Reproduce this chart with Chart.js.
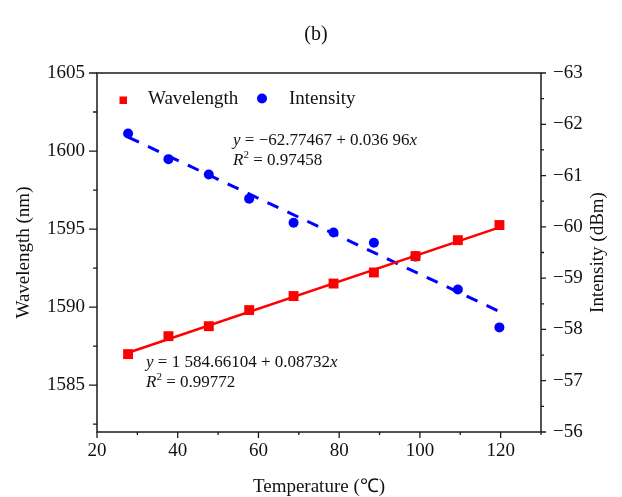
<!DOCTYPE html>
<html><head><meta charset="utf-8">
<script src="https://cdn.jsdelivr.net/npm/chart.js@4.4.0/dist/chart.umd.min.js"></script>
<style>html,body{margin:0;padding:0;background:#fff}#wrap{width:622px;height:497px;position:relative}</style>
</head><body><div id="wrap"><canvas id="c"></canvas></div>
<script>
const temperature = [27.7, 37.7, 47.7, 57.7, 68.7, 78.6, 88.6, 98.9, 109.4, 119.7];
const wavelength = [1586.99, 1588.14, 1588.78, 1589.81, 1590.71, 1591.51, 1592.22, 1593.27, 1594.29, 1595.26];
const intensity = [-61.82, -61.32, -61.02, -60.55, -60.08, -59.89, -59.69, -59.42, -58.78, -58.04];
const fitTemperature = [27.7, 119.7];
const wavelengthFit = [1587.08, 1595.11];
const intensityFit = [-61.75, -58.35];
const xTicks = [20, 40, 60, 80, 100, 120];
const xMinorTicks = [30, 50, 70, 90, 110, 130];
const wlTicks = [1585, 1590, 1595, 1600, 1605];
const wlMinorTicks = [1582.5, 1587.5, 1592.5, 1597.5, 1602.5];
const intTicks = [-63, -62, -61, -60, -59, -58, -57, -56];
const intMinorTicks = [-62.5, -61.5, -60.5, -59.5, -58.5, -57.5, -56.5];
const seriesNames = ['Wavelength', 'Intensity'];
const titleText = '(b)';
const xTitle = 'Temperature (\u2103)';
const yTitle = 'Wavelength (nm)';
const y2Title = 'Intensity (dBm)';

const FONT = '"Liberation Serif", "Times New Roman", serif';
const RED = '#ff0000';
const BLUE = '#0000ff';

const pts = (xs, ys) => xs.map((x, i) => ({x: x, y: ys[i]}));
const minus = v => String(v).replace('-', '\u2212');

function drawSegs(ctx, x, y, segs) {
  ctx.textBaseline = 'alphabetic';
  ctx.textAlign = 'left';
  for (const s of segs) {
    ctx.font = (s.italic ? 'italic ' : '') + s.size + 'px ' + FONT;
    ctx.fillText(s.t, x, y + (s.dy || 0));
    x += ctx.measureText(s.t).width;
  }
}

const decor = {
  id: 'decor',
  afterDraw(chart) {
    const ctx = chart.ctx;
    const a = chart.chartArea;
    const sx = chart.scales.x, sy = chart.scales.y, sy2 = chart.scales.y2;
    ctx.save();
    ctx.strokeStyle = '#1a1a1a';
    ctx.fillStyle = '#111';
    // frame
    ctx.lineWidth = 1.5;
    ctx.strokeRect(a.left, a.top, a.right - a.left, a.bottom - a.top);
    ctx.lineWidth = 1.3;
    ctx.beginPath();
    for (const v of xTicks) { const p = sx.getPixelForValue(v); ctx.moveTo(p, a.bottom); ctx.lineTo(p, a.bottom + 6); }
    for (const v of xMinorTicks) { const p = sx.getPixelForValue(v); ctx.moveTo(p, a.bottom); ctx.lineTo(p, a.bottom + 3); }
    for (const v of wlTicks) { const p = sy.getPixelForValue(v); ctx.moveTo(a.left, p); ctx.lineTo(a.left - 8, p); }
    for (const v of wlMinorTicks) { const p = sy.getPixelForValue(v); ctx.moveTo(a.left, p); ctx.lineTo(a.left - 4, p); }
    for (const v of intTicks) { const p = sy2.getPixelForValue(v); ctx.moveTo(a.right, p); ctx.lineTo(a.right + 5, p); }
    for (const v of intMinorTicks) { const p = sy2.getPixelForValue(v); ctx.moveTo(a.right, p); ctx.lineTo(a.right + 3, p); }
    ctx.stroke();

    // title
    ctx.textAlign = 'center';
    ctx.textBaseline = 'middle';
    ctx.font = '20px ' + FONT;
    ctx.fillText(titleText, 316, 35);
    // axis titles
    ctx.font = '19px ' + FONT;
    ctx.fillText(xTitle, (a.left + a.right) / 2, 487);
    ctx.save();
    ctx.translate(24, (a.top + a.bottom) / 2);
    ctx.rotate(-Math.PI / 2);
    ctx.fillText(yTitle, 0, 0);
    ctx.restore();
    ctx.save();
    ctx.translate(598, (a.top + a.bottom) / 2);
    ctx.rotate(-Math.PI / 2);
    ctx.fillText(y2Title, 0, 0);
    ctx.restore();

    // legend
    ctx.fillStyle = RED;
    ctx.fillRect(119.5, 96.5, 7.5, 7.5);
    ctx.fillStyle = BLUE;
    ctx.beginPath(); ctx.arc(262, 98.5, 5, 0, Math.PI * 2); ctx.fill();
    ctx.fillStyle = '#111';
    ctx.textAlign = 'left';
    ctx.textBaseline = 'alphabetic';
    ctx.font = '19px ' + FONT;
    ctx.fillText(seriesNames[0], 148, 104);
    ctx.fillText(seriesNames[1], 289, 104);

    // annotations
    drawSegs(ctx, 233, 145, [
      {t: 'y', italic: true, size: 17},
      {t: ' = \u221262.77467 + 0.036 96', size: 17},
      {t: 'x', italic: true, size: 17}
    ]);
    drawSegs(ctx, 233, 165, [
      {t: 'R', italic: true, size: 17},
      {t: '2', size: 11, dy: -7},
      {t: ' = 0.97458', size: 17}
    ]);
    drawSegs(ctx, 146, 367, [
      {t: 'y', italic: true, size: 17},
      {t: ' = 1 584.66104 + 0.08732', size: 17},
      {t: 'x', italic: true, size: 17}
    ]);
    drawSegs(ctx, 146, 387, [
      {t: 'R', italic: true, size: 17},
      {t: '2', size: 11, dy: -7},
      {t: ' = 0.99772', size: 17}
    ]);
    ctx.restore();
  }
};

const tickFont = {family: FONT, size: 19};

new Chart(document.getElementById('c'), {
  type: 'scatter',
  data: {
    datasets: [
      {label: seriesNames[0], data: pts(temperature, wavelength), yAxisID: 'y', pointStyle: 'rect', pointRadius: 7, backgroundColor: RED, borderColor: RED, borderWidth: 0, showLine: false, order: 1},
      {label: seriesNames[1], data: pts(temperature, intensity), yAxisID: 'y2', pointStyle: 'circle', pointRadius: 5, backgroundColor: BLUE, borderColor: BLUE, borderWidth: 0, showLine: false, order: 1},
      {label: 'wl fit', data: pts(fitTemperature, wavelengthFit), yAxisID: 'y', showLine: true, pointRadius: 0, borderColor: RED, borderWidth: 2.5, fill: false, order: 2},
      {label: 'int fit', data: pts(fitTemperature, intensityFit), yAxisID: 'y2', showLine: true, pointRadius: 0, borderColor: BLUE, borderWidth: 3, borderDash: [12, 10], fill: false, order: 2}
    ]
  },
  options: {
    responsive: true,
    maintainAspectRatio: false,
    animation: false,
    devicePixelRatio: 1,
    layout: {padding: {top: 73, left: 0, right: 0, bottom: 0}},
    plugins: {legend: {display: false}, tooltip: {enabled: false}, title: {display: false}},
    scales: {
      x: {
        type: 'linear', min: 20, max: 130,
        afterBuildTicks: s => { s.ticks = xTicks.map(v => ({value: v})); },
        afterFit: s => { s.height = 65; },
        grid: {display: false, drawTicks: false},
        border: {display: false},
        ticks: {font: tickFont, color: '#111', padding: 8, maxRotation: 0, callback: v => String(v)}
      },
      y: {
        type: 'linear', position: 'left', min: 1582, max: 1605,
        afterBuildTicks: s => { s.ticks = wlTicks.map(v => ({value: v})); },
        afterFit: s => { s.width = 97; },
        grid: {display: false, drawTicks: false},
        border: {display: false},
        ticks: {font: tickFont, color: '#111', padding: 12, callback: v => String(v)}
      },
      y2: {
        type: 'linear', position: 'right', min: -63, max: -56, reverse: true,
        afterBuildTicks: s => { s.ticks = intTicks.map(v => ({value: v})); },
        afterFit: s => { s.width = 81; },
        grid: {display: false, drawTicks: false},
        border: {display: false},
        ticks: {font: tickFont, color: '#111', padding: 12, callback: v => minus(v)}
      }
    }
  },
  plugins: [decor]
});
</script>
</body></html>
